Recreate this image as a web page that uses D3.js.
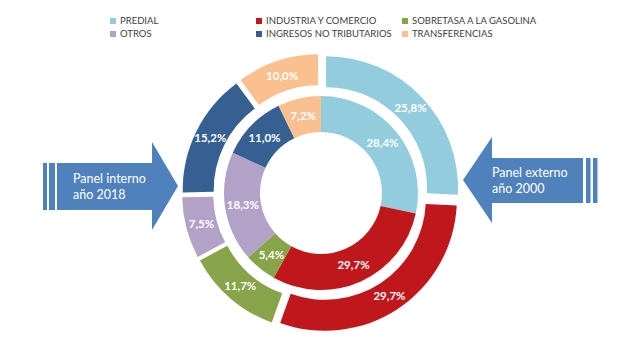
<!DOCTYPE html>
<html>
<head>
<meta charset="utf-8">
<script src="https://cdn.jsdelivr.net/npm/d3@7"></script>
<style>
	body { margin: 0; background: #fff; }
	svg { display: block; font-family: Lato, "Liberation Sans", sans-serif; }
</style>
</head>
<body>
<div id="chart"></div>
<script>
var categories = ["PREDIAL", "INDUSTRIA Y COMERCIO", "SOBRETASA A LA GASOLINA", "OTROS", "INGRESOS NO TRIBUTARIOS", "TRANSFERENCIAS"];
var values2000 = [25.8, 29.7, 11.7, 7.5, 15.2, 10.0];   // panel externo
var values2018 = [28.4, 29.7, 5.4, 18.3, 11.0, 7.2];    // panel interno
var colors = ["#93CDDD", "#C0171C", "#88A44B", "#B3A2C7", "#376092", "#FAC090"];
var legendRows = [[0, 1, 2], [3, 4, 5]];
var arrowLabels = [["Panel interno", "año 2018"], ["Panel externo", "año 2000"]];

var width = 640, height = 340;
var cx = 321, cy = 193;
var explode = 7;

var svg = d3.select("#chart").append("svg")
	.attr("width", width)
	.attr("height", height);

var color = d3.scaleOrdinal().domain(categories).range(colors);
var fmt = function(v){ return d3.format(".1f")(v).replace(".", ","); };

// pie totals to 100 so a missing 0.1% stays a gap like the original
var pie = d3.pie().sort(null).value(function(d){ return d.value; });
function toSlices(vals){
	var rows = vals.map(function(v, i){ return {name: categories[i], value: v}; });
	var total = d3.sum(vals);
	if (total < 100) rows.push({name: "_rest", value: 100 - total});
	return pie(rows).filter(function(d){ return d.data.name != "_rest"; });
}

var inner = d3.arc().innerRadius(61).outerRadius(97);
var outer = d3.arc().innerRadius(101).outerRadius(132);

var g = svg.append("g").attr("transform", "translate(" + cx + "," + cy + ")");

// inner ring (2018)
var innerSlices = toSlices(values2018);
g.selectAll(".inner")
	.data(innerSlices)
	.enter().append("path")
	.attr("class", "inner")
	.attr("d", inner)
	.style("fill", function(d){ return color(d.data.name); });

// outer ring (2000), exploded slices
var outerSlices = toSlices(values2000);
function shift(d){
	var a = (d.startAngle + d.endAngle) / 2;
	return [explode * Math.sin(a), -explode * Math.cos(a)];
}
var og = g.selectAll(".outer")
	.data(outerSlices)
	.enter().append("g")
	.attr("class", "outer")
	.attr("transform", function(d){ var s = shift(d); return "translate(" + s[0] + "," + s[1] + ")"; });
og.append("path")
	.attr("d", outer)
	.style("fill", function(d){ return color(d.data.name); });

// labels
g.selectAll(".innerLabel")
	.data(innerSlices)
	.enter().append("text")
	.attr("class", "innerLabel")
	.attr("x", function(d){ return inner.centroid(d)[0]; })
	.attr("y", function(d){ return inner.centroid(d)[1]; })
	.attr("dy", "0.35em")
	.attr("text-anchor", "middle")
	.style("fill", "#fff").style("font-weight", "bold").style("font-size", "11.5px")
	.text(function(d){ return fmt(d.data.value) + "%"; });

og.append("text")
	.attr("x", function(d){ return outer.centroid(d)[0]; })
	.attr("y", function(d){ return outer.centroid(d)[1]; })
	.attr("dy", "0.35em")
	.attr("text-anchor", "middle")
	.style("fill", "#fff").style("font-weight", "bold").style("font-size", "11.5px")
	.text(function(d){ return fmt(d.data.value) + "%"; });

// legend
var colX = [110, 256, 402], rowY = [18, 31];
legendRows.forEach(function(row, r){
	row.forEach(function(idx, c){
		var lg = svg.append("g").attr("transform", "translate(" + colX[c] + "," + rowY[r] + ")");
		lg.append("rect").attr("width", 6).attr("height", 6).style("fill", colors[idx]);
		lg.append("text")
			.attr("x", 10).attr("y", 6)
			.style("font-size", "9.5px").style("fill", "#404040")
			.text(categories[idx]);
	});
});

// striped arrows
var arrowColor = "#4F81BD";
var left = svg.append("g");
left.append("rect").attr("x", 43).attr("y", 163).attr("width", 4).attr("height", 47).style("fill", arrowColor);
left.append("rect").attr("x", 49).attr("y", 163).attr("width", 6).attr("height", 47).style("fill", arrowColor);
left.append("path")
	.attr("d", "M57,163 L152,163 L152,142 L178,186 L152,230 L152,210 L57,210 Z")
	.style("fill", arrowColor);
left.selectAll("text").data(arrowLabels[0]).enter().append("text")
	.attr("x", 73).attr("y", function(d, i){ return 183 + i * 16; })
	.style("fill", "#fff").style("font-size", "12.5px")
	.text(function(d){ return d; });

var right = svg.append("g");
right.append("rect").attr("x", 586).attr("y", 158).attr("width", 4.5).attr("height", 45).style("fill", arrowColor);
right.append("rect").attr("x", 593).attr("y", 158).attr("width", 4.5).attr("height", 45).style("fill", arrowColor);
right.append("path")
	.attr("d", "M583,158 L492,158 L492,137 L463,180 L492,223 L492,203 L583,203 Z")
	.style("fill", arrowColor);
right.selectAll("text").data(arrowLabels[1]).enter().append("text")
	.attr("x", 492).attr("y", function(d, i){ return 177 + i * 16; })
	.style("fill", "#fff").style("font-size", "12.5px")
	.text(function(d){ return d; });
</script>
</body>
</html>
